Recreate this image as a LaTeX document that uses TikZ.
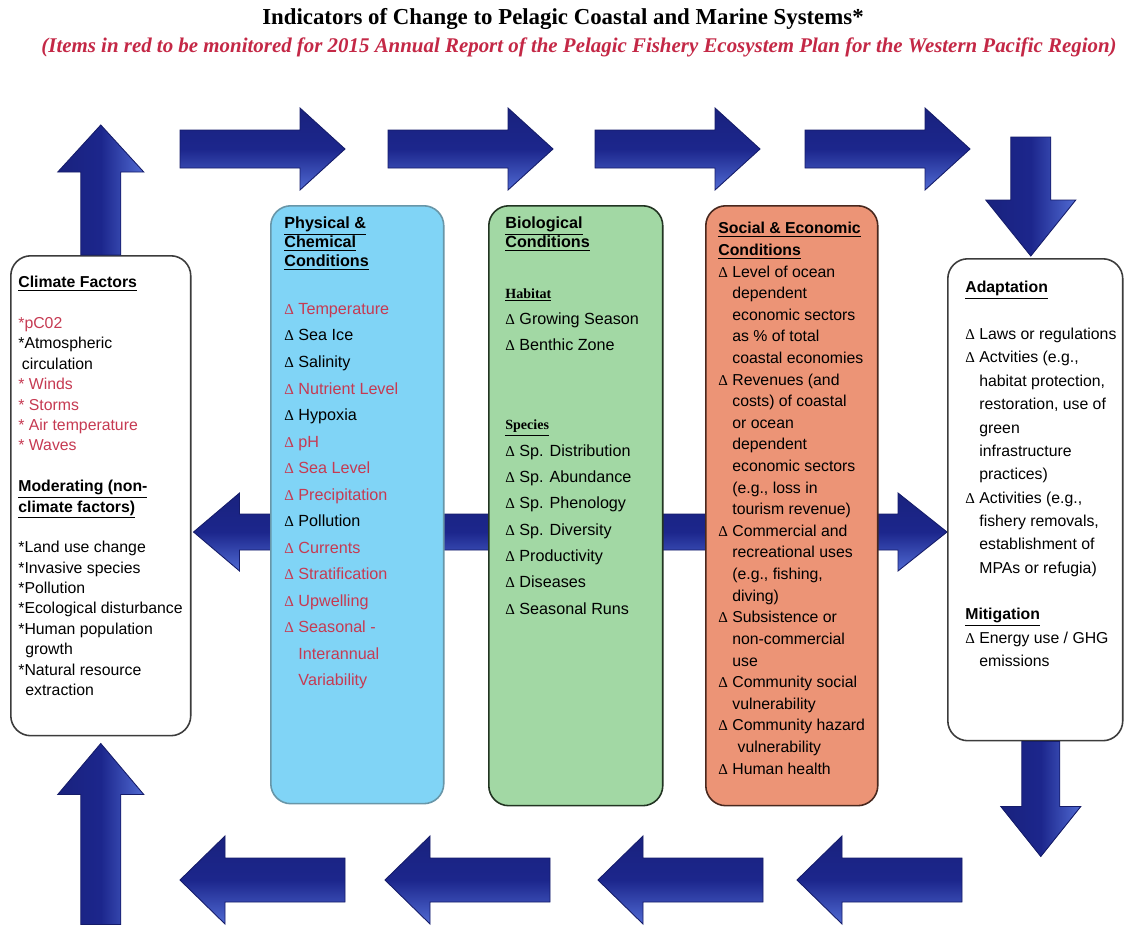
\documentclass[tikz,border=0pt]{standalone}
\usepackage{fontspec}
\usepackage{xcolor}
\setmainfont{Liberation Sans}
\newfontfamily\serifhead{Liberation Serif}
\usetikzlibrary{positioning,calc,backgrounds}

\definecolor{itemred}{RGB}{198,58,82}
\definecolor{titlered}{RGB}{196,40,70}
\definecolor{physfill}{RGB}{128,212,246}
\definecolor{physline}{RGB}{104,150,168}
\definecolor{biofill}{RGB}{162,216,164}
\definecolor{bioline}{RGB}{34,52,34}
\definecolor{socfill}{RGB}{236,148,118}
\definecolor{socline}{RGB}{72,40,30}
\definecolor{boxline}{RGB}{60,60,60}
\definecolor{arrdark}{RGB}{28,38,140}
\definecolor{arrlight}{RGB}{80,106,210}

\newcommand{\dlt}{{\serifhead\fontsize{8.5}{10}\selectfont Δ}\ }
\newcommand{\dind}{\phantom{\dlt}}
\newcommand{\subhd}[1]{{\serifhead\bfseries\fontsize{8}{10}\selectfont\underline{#1}}}
\newcommand{\boxhd}[1]{\underline{\textbf{#1}}}
\newcommand{\reditem}[1]{\textcolor{itemred}{#1}}

\begin{document}
\begin{tikzpicture}[x=0.02cm, y=-0.02cm,
  panel/.style={rounded corners=0.4cm, line width=0.9pt, anchor=north west, inner sep=0pt},
  txt/.style={inner sep=0pt, align=left, text=black},
  flowh/.style={draw=arrdark!75!black, line width=0.5pt, top color=arrdark!90!black, bottom color=arrlight, middle color=arrdark},
  flowv/.style={draw=arrdark!75!black, line width=0.5pt, left color=arrdark!90!black, right color=arrlight, middle color=arrdark}]
\useasboundingbox (0,0) rectangle (1125,926);

% titles
\node[font=\serifhead\bfseries\fontsize{13}{15}\selectfont] (title) at (563,19)
  {Indicators of Change to Pelagic Coastal and Marine Systems*};
\node[font=\serifhead\bfseries\itshape\fontsize{11.9}{14}\selectfont, text=titlered] (subtitle) at (579,47)
  {(Items in red to be monitored for 2015 Annual Report of the Pelagic Fishery Ecosystem Plan for the Western Pacific Region)};

% boxes
\node[panel, draw=boxline, fill=white, minimum width=3.6cm, minimum height=9.6cm] (climate) at (10,255) {};
\node[panel, draw=physline, fill=physfill, minimum width=3.46cm, minimum height=11.96cm] (phys) at (270,205) {};
\node[panel, draw=bioline, fill=biofill, minimum width=3.48cm, minimum height=12cm] (bio) at (488,205) {};
\node[panel, draw=socline, fill=socfill, minimum width=3.44cm, minimum height=12cm] (socio) at (705,205) {};
\node[panel, draw=boxline, fill=white, minimum width=3.5cm, minimum height=9.64cm] (adapt) at (947,258) {};

% climate factors
\node[txt, font=\fontsize{9}{11.6}\selectfont, below right=0.42cm and 0.16cm of climate.north west] (climtxt) {%
\boxhd{Climate Factors}\\[11.6pt]
\reditem{*pC02}\\
*Atmospheric\\
\hspace*{2pt}circulation\\
\reditem{* Winds}\\
\reditem{* Storms}\\
\reditem{* Air temperature}\\
\reditem{* Waves}\\[11.6pt]
\boxhd{Moderating (non-}\\
\boxhd{climate factors)}\\[11.6pt]
*Land use change\\
*Invasive species\\
*Pollution\\
*Ecological disturbance\\
*Human population\\
\hspace*{4pt}growth\\
*Natural resource\\
\hspace*{4pt}extraction};

% physical and chemical
\node[txt, font=\fontsize{9.2}{11}\selectfont, below right=0.22cm and 0.28cm of phys.north west] (physhead) {%
\boxhd{Physical \&}\\ \boxhd{Chemical}\\ \boxhd{Conditions}};
\node[txt, font=\fontsize{9.2}{15.1}\selectfont, below right=1.96cm and 0.28cm of phys.north west] (physlist) {%
\reditem{\dlt Temperature}\\
\dlt Sea Ice\\
\dlt Salinity\\
\reditem{\dlt Nutrient Level}\\
\dlt Hypoxia\\
\reditem{\dlt pH}\\
\reditem{\dlt Sea Level}\\
\reditem{\dlt Precipitation}\\
\dlt Pollution\\
\reditem{\dlt Currents}\\
\reditem{\dlt Stratification}\\
\reditem{\dlt Upwelling}\\
\reditem{\dlt Seasonal -}\\
\reditem{\dind Interannual}\\
\reditem{\dind Variability}};

% biological
\node[txt, font=\fontsize{9.2}{11.3}\selectfont, below right=0.22cm and 0.34cm of bio.north west] (biohead) {%
\boxhd{Biological}\\ \boxhd{Conditions}};
\node[txt, font=\fontsize{9.2}{15}\selectfont, below right=1.66cm and 0.34cm of bio.north west] (biolist) {%
\subhd{Habitat}\\
\dlt Growing Season\\
\dlt Benthic Zone\\[30pt]
\subhd{Species}\\
\dlt Sp. Distribution\\
\dlt Sp. Abundance\\
\dlt Sp. Phenology\\
\dlt Sp. Diversity\\
\dlt Productivity\\
\dlt Diseases\\
\dlt Seasonal Runs};

% social and economic
\node[txt, font=\fontsize{9}{12.3}\selectfont, below right=0.34cm and 0.26cm of socio.north west] (sociotxt) {%
\boxhd{Social \& Economic}\\
\boxhd{Conditions}\\
\dlt Level of ocean\\
\dind dependent\\
\dind economic sectors\\
\dind as \% of total\\
\dind coastal economies\\
\dlt Revenues (and\\
\dind costs) of coastal\\
\dind or ocean\\
\dind dependent\\
\dind economic sectors\\
\dind (e.g., loss in\\
\dind tourism revenue)\\
\dlt Commercial and\\
\dind recreational uses\\
\dind (e.g., fishing,\\
\dind diving)\\
\dlt Subsistence or\\
\dind non-commercial\\
\dind use\\
\dlt Community social\\
\dind vulnerability\\
\dlt Community hazard\\
\dind\hspace*{3pt}vulnerability\\
\dlt Human health};

% adaptation and mitigation
\node[txt, font=\fontsize{9}{13.3}\selectfont, below right=0.46cm and 0.36cm of adapt.north west] (adapttxt) {%
\boxhd{Adaptation}\\[13.3pt]
\dlt Laws or regulations\\
\dlt Actvities (e.g.,\\
\dind habitat protection,\\
\dind restoration, use of\\
\dind green\\
\dind infrastructure\\
\dind practices)\\
\dlt Activities (e.g.,\\
\dind fishery removals,\\
\dind establishment of\\
\dind MPAs or refugia)\\[13.3pt]
\boxhd{Mitigation}\\
\dlt Energy use / GHG\\
\dind emissions};

% bar through the three middle boxes
\begin{pgfonlayer}{background}
\fill[white] (0,0) rectangle (1125,926);
\coordinate (mid) at (560,532);
\coordinate (ltip) at ($(climate.east |- mid)+(2,0)$);
\coordinate (rtip) at (adapt.west |- mid);
\draw[flowh] (ltip) -- ++(46,-39) -- ++(0,21) -- ($(rtip)+(-49,-18)$) -- ++(0,-21) -- (rtip)
  -- ++(-49,39) -- ++(0,-21) -- ($(ltip)+(46,18)$) -- ++(0,21) -- cycle;
\end{pgfonlayer}

% top and bottom rows
\foreach \x in {180,388,595,805}
  \draw[flowh] (\x,130) -- ++(120,0) -- ++(0,-22) -- ++(45,41) -- ++(-45,41) -- ++(0,-22) -- ++(-120,0) -- cycle;
\foreach \x in {180,385,598,797}
  \draw[flowh] (\x,880) -- ++(45,-44) -- ++(0,22) -- ++(120,0) -- ++(0,44) -- ++(-120,0) -- ++(0,22) -- cycle;

% up and down arrows at the sides
\draw[flowv] ($(climate.north)+(-20,0)$) -- ++(0,-83) -- ++(-23,0) -- ++(43,-47) -- ++(43,47) -- ++(-23,0) -- ++(0,83) -- cycle;
\draw[flowv] ($(climate.south)+(0,7)$) -- ++(43,51) -- ++(-23,0) -- ++(0,130) -- ++(-40,0) -- ++(0,-130) -- ++(-23,0) -- cycle;
\draw[flowv] ($(adapt.north)+(-4.5,-2)$) -- ++(-45,-56) -- ++(25,0) -- ++(0,-63) -- ++(40,0) -- ++(0,63) -- ++(25,0) -- cycle;
\draw[flowv] ($(adapt.south)+(-13.5,0)$) -- ++(0,65) -- ++(-21,0) -- ++(40,50) -- ++(40,-50) -- ++(-21,0) -- ++(0,-65) -- cycle;
\end{tikzpicture}
\end{document}
